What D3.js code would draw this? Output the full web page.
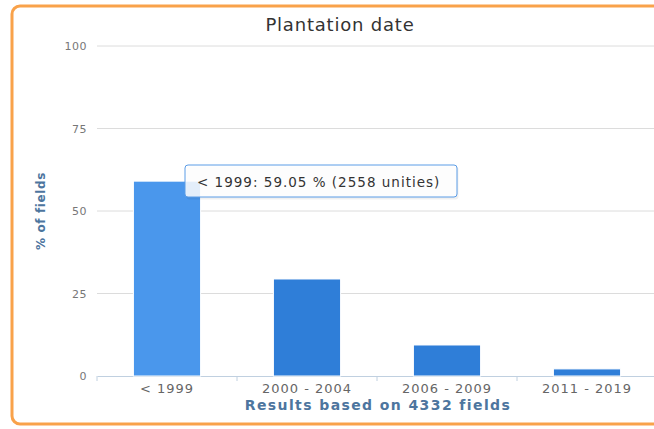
<!DOCTYPE html>
<html>
<head>
<meta charset="utf-8">
<script src="https://cdn.jsdelivr.net/npm/d3@7"></script>
<style>
  body { margin: 0; background: #fff; }
  svg { display: block; }
</style>
</head>
<body>
<div id="chart"></div>
<script>
  // chart data
  var categories = ["< 1999", "2000 - 2004", "2006 - 2009", "2011 - 2019"]
  var percents = [59.05, 29.4, 9.4, 2.15]
  var yTicks = [0, 25, 50, 75, 100]
  var tooltipText = "< 1999: 59.05 % (2558 unities)"

  var W = 654, H = 429
  var font = "'DejaVu Sans', Verdana, sans-serif"

  // plot area
  var margin = {top: 46, right: -3, bottom: 53, left: 97},
      width = W - margin.left - margin.right,
      height = H - margin.top - margin.bottom;

  var root = d3.select("#chart").append("svg")
      .attr("width", W)
      .attr("height", H)

  // orange frame
  root.append("rect")
      .attr("x", 12)
      .attr("y", 6)
      .attr("width", 660)
      .attr("height", 418)
      .attr("rx", 8)
      .attr("fill", "#fff")
      .attr("stroke", "#f9a24a")
      .attr("stroke-width", 3)

  // title
  root.append("text")
      .attr("x", 340)
      .attr("y", 31)
      .attr("text-anchor", "middle")
      .attr("font-family", font)
      .attr("font-size", "18px")
      .attr("letter-spacing", "0.8px")
      .attr("fill", "#333")
      .text("Plantation date")

  var svg = root.append("g")
      .attr("transform", "translate(" + margin.left + "," + margin.top + ")")

  var xScale = d3.scaleBand()
      .domain(categories)
      .range([0, 560])
      .paddingInner(0.52)
      .paddingOuter(0.26)

  var yScale = d3.scaleLinear()
      .domain([0, 100])
      .range([height, 0])

  // gridlines
  svg.selectAll(".grid")
      .data(yTicks.filter(function(d) { return d > 0 }))
    .enter().append("line")
      .attr("class", "grid")
      .attr("x1", 0)
      .attr("x2", width)
      .attr("y1", function(d) { return yScale(d) })
      .attr("y2", function(d) { return yScale(d) })
      .attr("stroke", "#dcdcdc")
      .attr("stroke-width", 1)

  // y axis labels
  var yAxis = d3.axisLeft(yScale).tickValues(yTicks).tickSize(0).tickPadding(10)
  var gy = svg.append("g").call(yAxis)
  gy.select(".domain").remove()
  gy.selectAll("text")
      .attr("font-family", font)
      .attr("font-size", "11px")
      .attr("letter-spacing", "0.5px")
      .attr("fill", "#777")

  // x axis
  var xAxis = d3.axisBottom(xScale).tickSize(0).tickPadding(8)
  var gx = svg.append("g")
      .attr("transform", "translate(0," + height + ")")
      .call(xAxis)
  gx.select(".domain").attr("stroke", "#c0d0e0")
  gx.selectAll("text")
      .attr("font-family", font)
      .attr("font-size", "13px")
      .attr("letter-spacing", "1px")
      .attr("fill", "#666")

  // x tick marks between categories
  var step = xScale.step()
  svg.selectAll(".xtick")
      .data(d3.range(categories.length + 1))
    .enter().append("line")
      .attr("class", "xtick")
      .attr("x1", function(i) { return i * step })
      .attr("x2", function(i) { return i * step })
      .attr("y1", height)
      .attr("y2", height + 5)
      .attr("stroke", "#c0d0e0")

  // bars
  svg.selectAll(".bar")
      .data(percents)
    .enter().append("rect")
      .attr("class", "bar")
      .attr("x", function(d, i) { return xScale(categories[i]) })
      .attr("width", xScale.bandwidth())
      .attr("y", function(d) { return yScale(d) })
      .attr("height", function(d) { return height - yScale(d) })
      .attr("fill", function(d, i) { return i == 0 ? "#4a97ec" : "#2f7ed8" })
      .attr("stroke", "#fff")
      .attr("stroke-width", 1)

  // axis titles
  root.append("text")
      .attr("transform", "translate(45," + (margin.top + height / 2) + ") rotate(-90)")
      .attr("text-anchor", "middle")
      .attr("font-family", font)
      .attr("font-size", "12px")
      .attr("letter-spacing", "0.6px")
      .attr("font-weight", "bold")
      .attr("fill", "#4d759e")
      .text("% of fields")

  root.append("text")
      .attr("x", 378)
      .attr("y", 410)
      .attr("text-anchor", "middle")
      .attr("font-family", font)
      .attr("font-size", "14px")
      .attr("letter-spacing", "1.4px")
      .attr("font-weight", "bold")
      .attr("fill", "#4d759e")
      .text("Results based on 4332 fields")

  // tooltip
  var tip = root.append("g").attr("transform", "translate(185,165)")
  tip.append("rect")
      .attr("x", 1.5).attr("y", 1.5)
      .attr("width", 272).attr("height", 33)
      .attr("rx", 3)
      .attr("fill", "#000").attr("opacity", 0.06)
  tip.append("rect")
      .attr("width", 272).attr("height", 32)
      .attr("rx", 3)
      .attr("fill", "rgba(255,255,255,0.85)")
      .attr("stroke", "#5b9ce6")
      .attr("stroke-width", 1)
  tip.append("text")
      .attr("x", 12)
      .attr("y", 22)
      .attr("font-family", font)
      .attr("font-size", "13.5px")
      .attr("letter-spacing", "1px")
      .attr("fill", "#333")
      .text(tooltipText)
</script>
</body>
</html>
